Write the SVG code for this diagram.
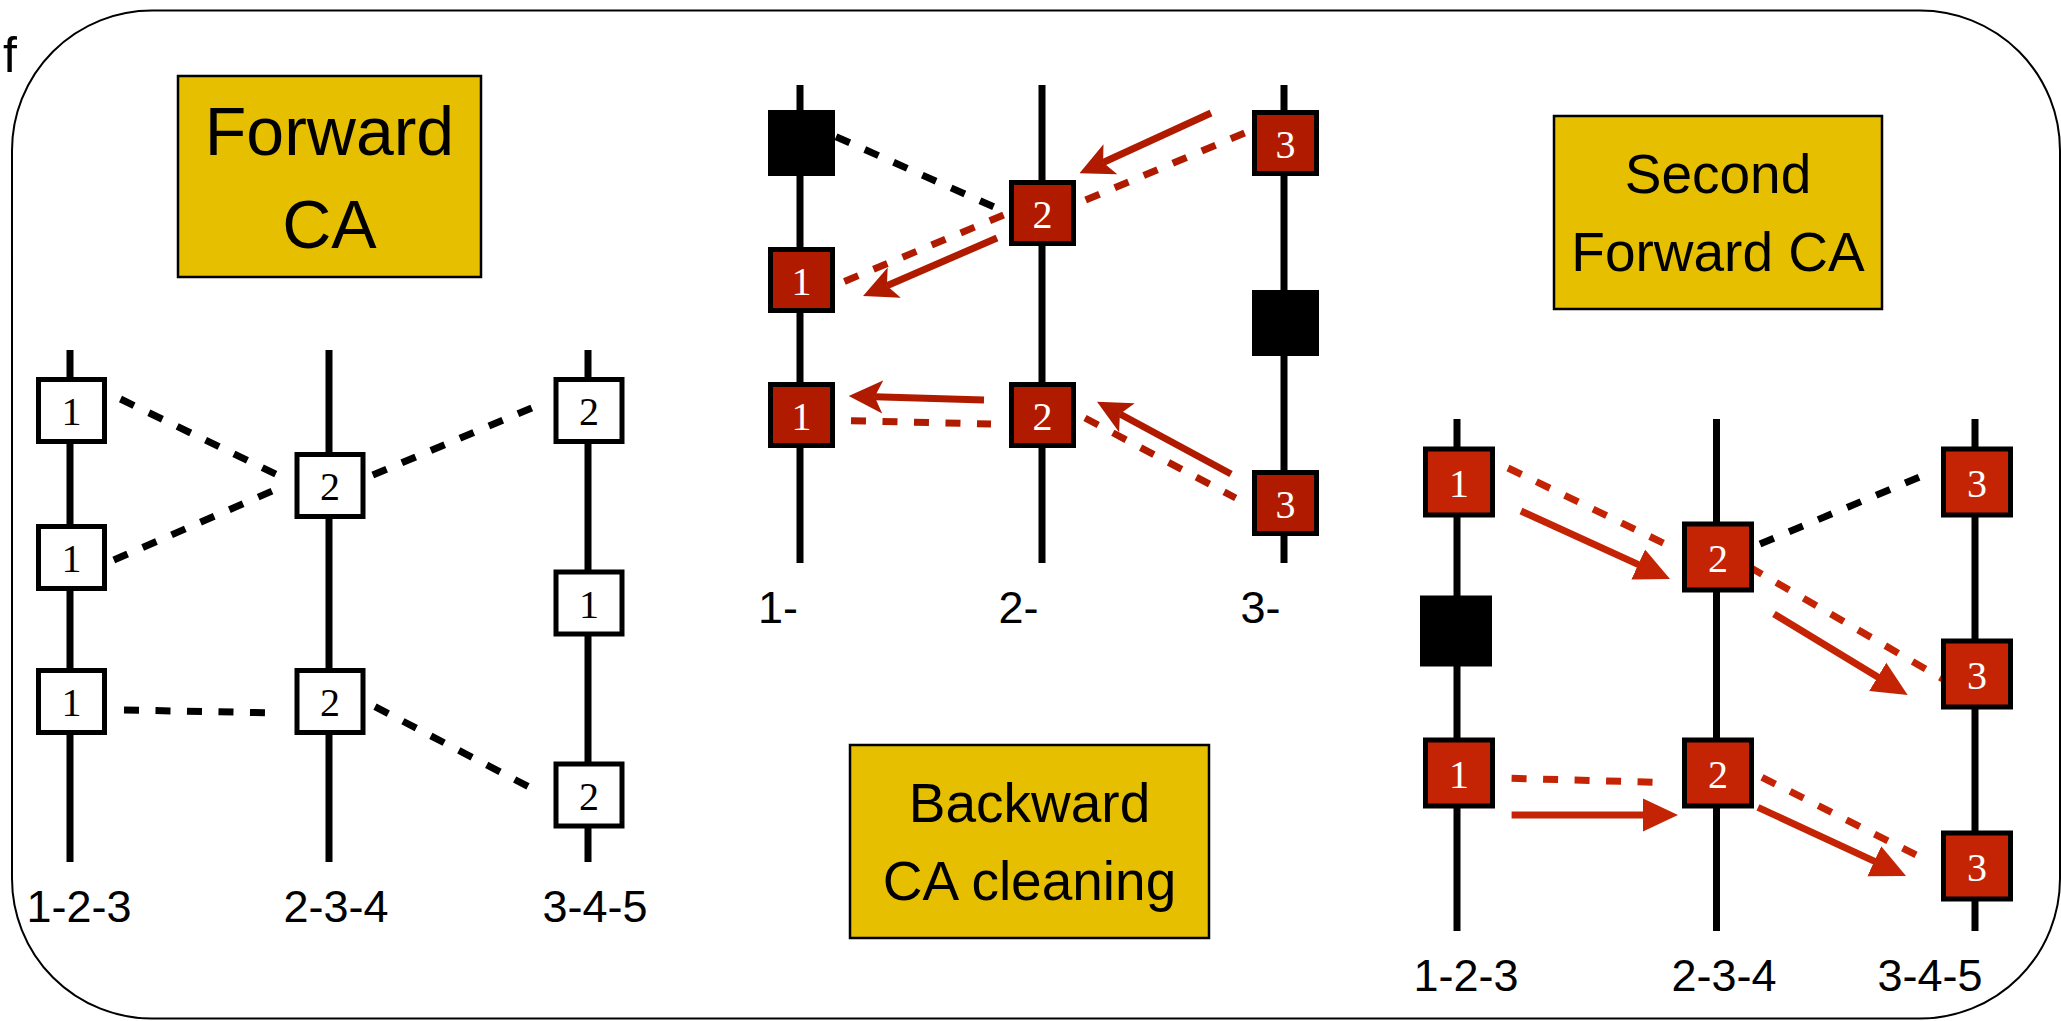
<svg xmlns="http://www.w3.org/2000/svg" width="2061" height="1021" viewBox="0 0 2061 1021">
  <style>
    .frame { fill: none; stroke: #000; stroke-width: 2; }
    .stage { fill: #E5BF00; stroke: #000; stroke-width: 2.5; }
    .title { font-family: "Liberation Sans", Arial, sans-serif; text-anchor: middle; fill: #000; }
    .axis { font-family: "Liberation Sans", Arial, sans-serif; font-size: 45px; text-anchor: middle; fill: #000; }
    .chain { stroke: #000; stroke-width: 7; }
    .site { stroke: #000; stroke-width: 5; }
    .open { fill: #fff; }
    .reda { fill: #B01B00; }
    .redb { fill: #C42404; }
    .dead { fill: #000; }
    .num { font-family: "Liberation Serif", "DejaVu Serif", serif; font-size: 40px; text-anchor: middle; }
    .num-k { fill: #000; }
    .num-w { fill: #fff; }
    .dash { fill: none; stroke-width: 7; stroke-dasharray: 15 16.5; }
    .k { stroke: #000; }
    .ra { stroke: #B01B00; }
    .rb { stroke: #C42404; }
    .arrow-a { fill: none; stroke: #B01B00; stroke-width: 7; marker-end: url(#barb); }
    .arrow-b { fill: none; stroke: #C42404; stroke-width: 7; marker-end: url(#tri); }
  </style>
  <defs>
    <marker id="barb" viewBox="0 -17 34 34" markerWidth="34" markerHeight="34" refX="8" refY="0" markerUnits="userSpaceOnUse" orient="auto">
      <path d="M0,-16.5 L34,0 L0,16.5 L8,0 Z" fill="#B01B00"/>
    </marker>
    <marker id="tri" viewBox="0 -17 35 34" markerWidth="35" markerHeight="34" refX="1" refY="0" markerUnits="userSpaceOnUse" orient="auto">
      <path d="M0,-16.5 L35,0 L0,16.5 Z" fill="#C42404"/>
    </marker>
  </defs>

  <!-- outer frame -->
  <rect class="frame" x="12" y="10.5" width="2048" height="1008" rx="140" ry="140"/>
  <text x="3" y="72" font-family="Liberation Sans, Arial, sans-serif" font-size="50">f</text>

  <!-- stage captions -->
  <g id="caption-forward">
    <rect class="stage" x="178" y="76" width="303" height="201"/>
    <text class="title" font-size="68" x="329.5" y="155">Forward</text>
    <text class="title" font-size="68" x="329.5" y="248">CA</text>
  </g>
  <g id="caption-backward">
    <rect class="stage" x="850" y="745" width="359" height="193"/>
    <text class="title" font-size="55" x="1029.5" y="822">Backward</text>
    <text class="title" font-size="55" x="1029.5" y="900">CA cleaning</text>
  </g>
  <g id="caption-second">
    <rect class="stage" x="1554" y="116" width="328" height="193"/>
    <text class="title" font-size="55" x="1718" y="193">Second</text>
    <text class="title" font-size="55" x="1718" y="271">Forward CA</text>
  </g>

  <!-- chain axes -->
  <g id="axes">
    <line class="chain" x1="70" y1="350" x2="70" y2="862"/>
    <line class="chain" x1="329" y1="350" x2="329" y2="862"/>
    <line class="chain" x1="588" y1="350" x2="588" y2="862"/>
    <line class="chain" x1="800" y1="85" x2="800" y2="563"/>
    <line class="chain" x1="1042" y1="85" x2="1042" y2="563"/>
    <line class="chain" x1="1284" y1="85" x2="1284" y2="563"/>
    <line class="chain" x1="1457" y1="419" x2="1457" y2="931"/>
    <line class="chain" x1="1716.5" y1="419" x2="1716.5" y2="931"/>
    <line class="chain" x1="1975" y1="419" x2="1975" y2="931"/>
  </g>

  <!-- connectors -->
  <g id="connectors">
    <!-- forward CA -->
    <line class="dash k" x1="120.5" y1="399" x2="281" y2="476.7"/>
    <line class="dash k" x1="113.8" y1="560" x2="274.5" y2="490"/>
    <line class="dash k" x1="372.8" y1="475" x2="534" y2="407"/>
    <line class="dash k" x1="124" y1="710" x2="267" y2="712.7"/>
    <line class="dash k" x1="375" y1="706.7" x2="531" y2="788"/>
    <!-- backward CA cleaning -->
    <line class="dash k" x1="836" y1="136.7" x2="997" y2="208.3"/>
    <line class="dash ra" x1="1244.6" y1="133" x2="1081.7" y2="201.7"/>
    <line class="dash ra" x1="1003.6" y1="215" x2="840.6" y2="283"/>
    <line class="dash ra" x1="851" y1="420.7" x2="991" y2="424"/>
    <line class="dash ra" x1="1085" y1="418" x2="1235.7" y2="498"/>
    <line class="arrow-a" x1="1211" y1="113" x2="1103.1" y2="162.5"/>
    <line class="arrow-a" x1="997" y1="238" x2="886.9" y2="285.7"/>
    <line class="arrow-a" x1="984" y1="400" x2="874.7" y2="396.8"/>
    <line class="arrow-a" x1="1231" y1="474" x2="1119.9" y2="414"/>
    <!-- second forward CA -->
    <line class="dash rb" x1="1508" y1="468" x2="1668.8" y2="545.7"/>
    <line class="dash k" x1="1760" y1="544" x2="1922" y2="476"/>
    <line class="dash rb" x1="1749" y1="566.7" x2="1944.6" y2="680"/>
    <line class="dash rb" x1="1511.6" y1="778.3" x2="1654.5" y2="782.3"/>
    <line class="dash rb" x1="1762" y1="777.3" x2="1920.7" y2="857.3"/>
    <line class="arrow-b" x1="1521" y1="511" x2="1639.1" y2="564.9"/>
    <line class="arrow-b" x1="1774" y1="614" x2="1878.6" y2="677.4"/>
    <line class="arrow-b" x1="1511.6" y1="815" x2="1644" y2="815"/>
    <line class="arrow-b" x1="1758" y1="807.3" x2="1875.2" y2="861.7"/>
  </g>

  <!-- forward CA sites -->
  <g id="f-123-a"><rect class="site open" x="38.5" y="379.5" width="66" height="62"/><text class="num num-k" x="71.5" y="425">1</text></g>
  <g id="f-123-b"><rect class="site open" x="38.5" y="526.5" width="66" height="62"/><text class="num num-k" x="71.5" y="572">1</text></g>
  <g id="f-123-c"><rect class="site open" x="38.5" y="670.5" width="66" height="62"/><text class="num num-k" x="71.5" y="716">1</text></g>
  <g id="f-234-a"><rect class="site open" x="297" y="454.5" width="66" height="62"/><text class="num num-k" x="330" y="500">2</text></g>
  <g id="f-234-b"><rect class="site open" x="297" y="670.5" width="66" height="62"/><text class="num num-k" x="330" y="716">2</text></g>
  <g id="f-345-a"><rect class="site open" x="556" y="379.5" width="66" height="62"/><text class="num num-k" x="589" y="425">2</text></g>
  <g id="f-345-b"><rect class="site open" x="556" y="572" width="66" height="62"/><text class="num num-k" x="589" y="617.5">1</text></g>
  <g id="f-345-c"><rect class="site open" x="556" y="764" width="66" height="62"/><text class="num num-k" x="589" y="809.5">2</text></g>

  <!-- backward CA cleaning sites -->
  <g id="b-1-a"><rect class="site dead" x="770.5" y="112.5" width="62" height="61"/></g>
  <g id="b-1-b"><rect class="site reda" x="770.5" y="249.5" width="62" height="61"/><text class="num num-w" x="801.5" y="294.5">1</text></g>
  <g id="b-1-c"><rect class="site reda" x="770.5" y="384.5" width="62" height="61"/><text class="num num-w" x="801.5" y="429.5">1</text></g>
  <g id="b-2-a"><rect class="site reda" x="1011.5" y="182.5" width="62" height="61"/><text class="num num-w" x="1042.5" y="227.5">2</text></g>
  <g id="b-2-b"><rect class="site reda" x="1011.5" y="384.5" width="62" height="61"/><text class="num num-w" x="1042.5" y="429.5">2</text></g>
  <g id="b-3-a"><rect class="site reda" x="1254.5" y="112.5" width="62" height="61"/><text class="num num-w" x="1285.5" y="157.5">3</text></g>
  <g id="b-3-b"><rect class="site dead" x="1254.5" y="292.5" width="62" height="61"/></g>
  <g id="b-3-c"><rect class="site reda" x="1254.5" y="472.5" width="62" height="61"/><text class="num num-w" x="1285.5" y="517.5">3</text></g>

  <!-- second forward CA sites -->
  <g id="s-123-a"><rect class="site redb" x="1425.5" y="449" width="67" height="66"/><text class="num num-w" x="1459" y="496.5">1</text></g>
  <g id="s-123-b"><rect class="site dead" x="1422.5" y="598" width="67" height="66"/></g>
  <g id="s-123-c"><rect class="site redb" x="1425.5" y="740" width="67" height="66"/><text class="num num-w" x="1459" y="787.5">1</text></g>
  <g id="s-234-a"><rect class="site redb" x="1684.5" y="524" width="67" height="66"/><text class="num num-w" x="1718" y="571.5">2</text></g>
  <g id="s-234-b"><rect class="site redb" x="1684.5" y="740" width="67" height="66"/><text class="num num-w" x="1718" y="787.5">2</text></g>
  <g id="s-345-a"><rect class="site redb" x="1943.5" y="449" width="67" height="66"/><text class="num num-w" x="1977" y="496.5">3</text></g>
  <g id="s-345-b"><rect class="site redb" x="1943.5" y="641" width="67" height="66"/><text class="num num-w" x="1977" y="688.5">3</text></g>
  <g id="s-345-c"><rect class="site redb" x="1943.5" y="833" width="67" height="66"/><text class="num num-w" x="1977" y="880.5">3</text></g>

  <!-- chain labels -->
  <g id="labels">
    <text class="axis" x="79" y="922">1-2-3</text>
    <text class="axis" x="336" y="922">2-3-4</text>
    <text class="axis" x="595" y="922">3-4-5</text>
    <text class="axis" x="778" y="623">1-</text>
    <text class="axis" x="1018.5" y="623">2-</text>
    <text class="axis" x="1260.5" y="623">3-</text>
    <text class="axis" x="1466" y="991">1-2-3</text>
    <text class="axis" x="1724" y="991">2-3-4</text>
    <text class="axis" x="1930" y="991">3-4-5</text>
  </g>
</svg>
